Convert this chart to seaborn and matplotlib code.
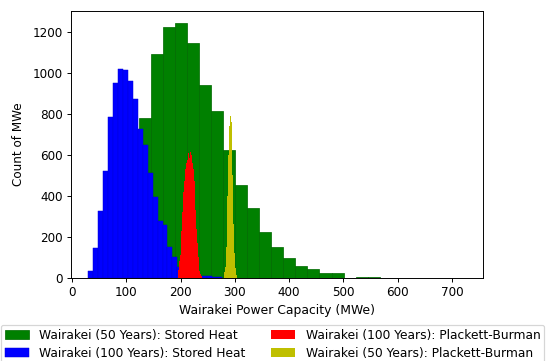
import numpy as np
import pandas as pd
import matplotlib
matplotlib.use("Agg")
import matplotlib.pyplot as plt
import seaborn as sns

# ---- data ----
labels = ["Wairakei (50 Years): Stored Heat",
          "Wairakei (100 Years): Stored Heat",
          "Wairakei (100 Years): Plackett-Burman",
          "Wairakei (50 Years): Plackett-Burman"]

# Stored Heat, 50 years (green): bins of ~22.2 MWe
green_range = (34.3, 567.1)
green_counts = [8, 60, 200, 450, 780, 1090, 1224, 1244, 1146, 943, 812, 623,
                451, 342, 221, 148, 95, 59, 42, 24, 24, 0, 5, 5]

# Stored Heat, 100 years (blue): bins of ~9.1 MWe
blue_range = (30.4, 276.1)
blue_counts = [34, 143, 325, 522, 785, 951, 1021, 1015, 961, 870, 724, 647,
               509, 395, 275, 255, 148, 99, 54, 30, 20, 14, 10, 7, 6, 4, 3]

# Plackett-Burman, 100 years (red)
red_range = (196.0, 239.0)
red_counts = [40, 80, 110, 160, 230, 320, 420, 470, 505, 530, 560, 575, 595,
              610, 585, 615, 600, 590, 560, 530, 470, 420, 330, 240, 170, 100,
              60, 35, 20, 8]

# Plackett-Burman, 50 years (yellow)
yellow_range = (280.0, 305.0)
yellow_counts = [15, 30, 50, 80, 150, 260, 400, 540, 600, 680, 740, 770, 790,
                 760, 640, 500, 380, 260, 180, 120, 75, 45, 25, 12, 5]

colors = ["g", "b", "r", "y"]
edgecolors = ["#006a00", "#0000d8", "r", "y"]
linewidths = [0.6, 0.4, 0, 0]

DPI = 86.4
fig = plt.figure(figsize=(552 / DPI, 361 / DPI), dpi=DPI)
ax = fig.add_axes([71 / 552, 1 - 277.7 / 361, 412.3 / 552, 266.7 / 361])

series = [(green_range, green_counts), (blue_range, blue_counts),
          (red_range, red_counts), (yellow_range, yellow_counts)]
for (rng, counts), lab, c, ec, lw in zip(series, labels, colors, edgecolors, linewidths):
    edges = np.linspace(rng[0], rng[1], len(counts) + 1)
    df = pd.DataFrame({"value": (edges[:-1] + edges[1:]) / 2,
                       "count": np.asarray(counts, dtype=float)})
    sns.histplot(data=df, x="value", weights="count", bins=edges.tolist(), ax=ax,
                 color=c, alpha=1, edgecolor=ec, linewidth=lw, label=lab)

ax.set_xlim(-1.8, 758)
ax.set_ylim(0, 1302)
ax.set_xticks([0, 100, 200, 300, 400, 500, 600, 700])
ax.set_yticks([0, 200, 400, 600, 800, 1000, 1200])
ax.set_xlabel("Wairakei Power Capacity (MWe)", fontsize=10.3)
ax.set_ylabel("Count of MWe", labelpad=6)

ax.legend(ncol=2, loc="upper left", bbox_to_anchor=(1 / 552, 1 - 325 / 361),
          bbox_transform=fig.transFigure, borderaxespad=0,
          fontsize=10.25, handlelength=1.95, handletextpad=0.86,
          columnspacing=2.07, labelspacing=0.4, borderpad=0.3)

fig.savefig("out.png", dpi=DPI)
